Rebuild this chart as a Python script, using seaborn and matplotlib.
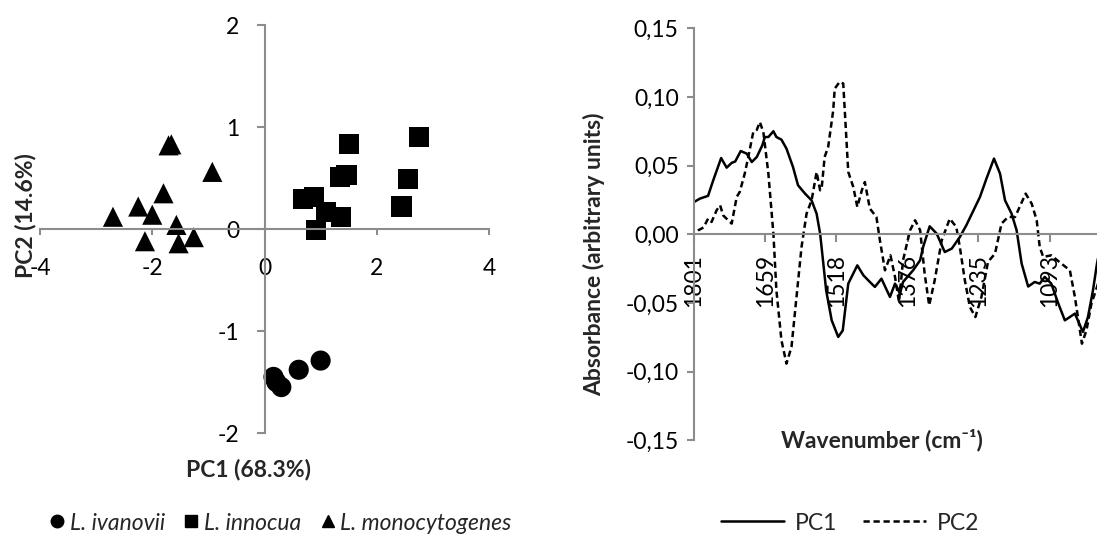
import matplotlib
matplotlib.use("Agg")
import matplotlib.pyplot as plt
import seaborn as sns
import pandas as pd
from matplotlib.lines import Line2D

sns.set_theme(style="white")
plt.rcParams["font.family"] = ["Lato", "DejaVu Sans"]

# ---------------- data: PCA scores ----------------
species_names = ["L. ivanovii", "L. innocua", "L. monocytogenes"]
ivanovii_pc1 = [0.16, 0.21, 0.30, 0.61, 1.00]
ivanovii_pc2 = [-1.45, -1.50, -1.55, -1.38, -1.29]
innocua_pc1 = [0.68, 0.88, 0.91, 1.10, 1.34, 1.46, 1.37, 1.50, 2.44, 2.56, 2.76]
innocua_pc2 = [0.29, 0.31, -0.01, 0.17, 0.51, 0.53, 0.12, 0.83, 0.22, 0.49, 0.90]
mono_pc1 = [-2.70, -2.25, -2.00, -1.80, -1.71, -1.66, -0.93, -1.57, -2.13, -1.53, -1.26]
mono_pc2 = [0.12, 0.22, 0.14, 0.35, 0.82, 0.83, 0.56, 0.04, -0.12, -0.14, -0.08]

score_xticks = [-4, -2, 0, 2, 4]
score_yticks = [-2, -1, 0, 1, 2]

# ---------------- data: loadings ----------------
pc1_wn = [1801, 1789, 1773, 1763, 1747, 1736, 1726, 1719, 1708, 1696, 1686, 1676, 1665,
          1660, 1653, 1643, 1637, 1627, 1617, 1604, 1594, 1580, 1567, 1557, 1550, 1544,
          1538, 1527, 1514, 1505, 1494, 1476, 1464, 1451, 1441, 1428, 1411, 1401, 1391,
          1385, 1365, 1351, 1345, 1332, 1318, 1302, 1288, 1272, 1259, 1232, 1219, 1204,
          1192, 1182, 1169, 1159, 1149, 1136, 1123, 1113, 1103, 1090, 1076, 1063, 1053,
          1043, 1027, 1017, 1007, 999, 992]
pc1_val = [0.0235, 0.026, 0.028, 0.039, 0.0555, 0.0485, 0.052, 0.053, 0.0606, 0.0587,
           0.0526, 0.0563, 0.0648, 0.0708, 0.0708, 0.075, 0.0708, 0.0689, 0.0624, 0.049,
           0.0357, 0.0296, 0.0247, 0.015, 0.0005, -0.02, -0.0408, -0.0626, -0.0747, -0.070,
           -0.0359, -0.0226, -0.0298, -0.0347, -0.0383, -0.0323, -0.0456, -0.0359, -0.0432,
           -0.0347, -0.0262, -0.0189, -0.0092, 0.0058, 0.0005, -0.0129, -0.0104, -0.002,
           0.0066, 0.0271, 0.0405, 0.0551, 0.0442, 0.0247, 0.015, 0.003, -0.0213, -0.038,
           -0.0347, -0.0359, -0.031, -0.0359, -0.0504, -0.0626, -0.0602, -0.0577, -0.0711,
           -0.0602, -0.0408, -0.0213, -0.008]

pc2_wn = [1801, 1792, 1782, 1773, 1766, 1756, 1749, 1743, 1733, 1726, 1716, 1710, 1700,
          1693, 1683, 1676, 1670, 1663, 1653, 1643, 1637, 1627, 1617, 1607, 1597, 1587,
          1577, 1567, 1557, 1550, 1547, 1541, 1534, 1524, 1521, 1511, 1504, 1494, 1484,
          1476, 1467, 1461, 1451, 1438, 1431, 1421, 1410, 1401, 1393, 1385, 1371, 1361,
          1351, 1342, 1333, 1322, 1308, 1292, 1279, 1272, 1262, 1252, 1241, 1229, 1216,
          1202, 1189, 1176, 1162, 1153, 1141, 1129, 1119, 1113, 1106, 1090, 1070, 1053,
          1043, 1033, 1029, 1020, 1010, 999, 992]
pc2_val = [0.0005, 0.003, 0.005, 0.0114, 0.009, 0.0175, 0.0211, 0.0138, 0.0102, 0.0078,
           0.0272, 0.0308, 0.0442, 0.0563, 0.0745, 0.076, 0.0817, 0.0745, 0.0442, 0.0005,
           -0.0408, -0.0771, -0.0941, -0.082, -0.0456, -0.0092, 0.015, 0.0247, 0.0453, 0.032,
           0.0333, 0.0563, 0.0636, 0.090, 0.106, 0.111, 0.1097, 0.0454, 0.0344, 0.0199,
           0.032, 0.038, 0.0187, 0.0126, -0.0044, -0.0262, -0.0153, -0.031, -0.0493, -0.0189,
           0.0029, 0.0102, 0.003, -0.0286, -0.0517, -0.0335, -0.0044, 0.0114, 0.0053, -0.0092,
           -0.0335, -0.0529, -0.0602, -0.0456, -0.0201, -0.0141, 0.0078, 0.0126, 0.0126,
           0.0199, 0.0296, 0.0223, 0.0102, -0.0092, -0.0165, -0.0153, -0.0213, -0.0262,
           -0.0456, -0.0699, -0.0796, -0.0699, -0.0504, -0.0383, -0.030]

wn_ticks = [1801, 1659, 1518, 1376, 1235, 1093]
abs_ticks = [-0.15, -0.10, -0.05, 0.00, 0.05, 0.10, 0.15]
abs_ticklabels = ["-0,15", "-0,10", "-0,05", "0,00", "0,05", "0,10", "0,15"]

# ---------------- frames ----------------
scores = pd.DataFrame({
    "PC1": ivanovii_pc1 + innocua_pc1 + mono_pc1,
    "PC2": ivanovii_pc2 + innocua_pc2 + mono_pc2,
    "species": [species_names[0]] * len(ivanovii_pc1)
               + [species_names[1]] * len(innocua_pc1)
               + [species_names[2]] * len(mono_pc1),
})
loadings = pd.DataFrame({
    "wn": pc1_wn + pc2_wn,
    "value": pc1_val + pc2_val,
    "component": ["PC1"] * len(pc1_wn) + ["PC2"] * len(pc2_wn),
})

W, H = 1097, 535
fig = plt.figure(figsize=(W / 100, H / 100), dpi=100)
AXC = "#8c8c8c"
FS = 16.5
LW = 1.8
DASH = (2.5, 1.5)

# ---------------- left: scores ----------------
ax1 = fig.add_axes([40 / W, 1 - 433 / H, 449 / W, 408 / H])
markers = {species_names[0]: "o", species_names[1]: "s", species_names[2]: "^"}
sns.scatterplot(data=scores, x="PC1", y="PC2", style="species", markers=markers,
                color="black", s=210, linewidth=0, legend=False, ax=ax1, clip_on=False)
for s in ["top", "right"]:
    ax1.spines[s].set_visible(False)
ax1.spines["left"].set_position(("data", 0))
ax1.spines["bottom"].set_position(("data", 0))
for s in ["left", "bottom"]:
    ax1.spines[s].set_color(AXC)
    ax1.spines[s].set_linewidth(1.5)
ax1.set_xlim(-4, 4)
ax1.set_ylim(-2, 2)
ax1.set_xticks(score_xticks)
ax1.set_yticks(score_yticks)
ax1.set_xticklabels([str(v) for v in score_xticks])
ax1.set_yticklabels([str(v) for v in score_yticks])
ax1.tick_params(axis="x", direction="out", length=4, width=1.5, color=AXC, pad=17,
                labelsize=FS, labelcolor="black", bottom=True)
ax1.tick_params(axis="y", direction="out", length=6, width=1.5, color=AXC, pad=12,
                labelsize=FS, labelcolor="black", left=True)
ax1.set_xlabel("")
ax1.set_ylabel("")
ax1.patch.set_alpha(0)

fig.text(248 / W, 1 - 469 / H, "PC1 (68.3%)", ha="center", va="center",
         fontsize=FS, fontweight="bold")
fig.text(25 / W, 1 - 216 / H, "PC2 (14.6%)", ha="center", va="center",
         rotation=90, fontsize=FS, fontweight="bold")

leg1_handles = [Line2D([], [], marker=markers[n], color="black", linestyle="none",
                       markersize=9) for n in species_names]
fig.legend(leg1_handles, species_names, loc="center", bbox_to_anchor=(281 / W, 1 - 523 / H),
           ncol=3, frameon=False, handletextpad=0.25, columnspacing=0.85,
           handlelength=0.6, borderpad=0, prop={"style": "italic", "size": FS})

# ---------------- right: loadings ----------------
ax2 = fig.add_axes([694 / W, 1 - 440.4 / H, (W - 694) / W, 412.2 / H])
sns.lineplot(data=loadings, x="wn", y="value", style="component",
             dashes={"PC1": "", "PC2": DASH}, color="black", linewidth=LW,
             estimator=None, sort=True, legend=False, ax=ax2)
for s in ["top", "right"]:
    ax2.spines[s].set_visible(False)
ax2.spines["bottom"].set_position(("data", 0))
for s in ["left", "bottom"]:
    ax2.spines[s].set_color(AXC)
    ax2.spines[s].set_linewidth(1.5)
ax2.set_xlim(1801, 999)
ax2.set_ylim(-0.15, 0.15)
ax2.set_xticks(wn_ticks)
ax2.set_xticklabels([str(v) for v in wn_ticks], rotation=90)
ax2.set_yticks(abs_ticks)
ax2.set_yticklabels(abs_ticklabels)
ax2.tick_params(axis="x", direction="out", length=6, width=1.5, color=AXC, pad=8,
                labelsize=FS, labelcolor="black", bottom=True)
ax2.tick_params(axis="y", direction="out", length=5, width=1.5, color=AXC, pad=6,
                labelsize=FS, labelcolor="black", left=True)
ax2.set_xlabel("")
ax2.set_ylabel("")
ax2.patch.set_alpha(0)

fig.text(594 / W, 1 - 254 / H, "Absorbance (arbitrary units)", ha="center", va="center",
         rotation=90, fontsize=FS, fontweight="bold")
fig.text(882 / W, 1 - 440 / H, "Wavenumber (cm⁻¹)", ha="center", va="center",
         fontsize=FS, fontweight="bold")

leg2_handles = [Line2D([], [], color="black", linewidth=LW),
                Line2D([], [], color="black", linewidth=LW, dashes=DASH)]
fig.legend(leg2_handles, ["PC1", "PC2"], loc="center", bbox_to_anchor=(850 / W, 1 - 523 / H),
           ncol=2, frameon=False, handletextpad=0.5, columnspacing=1.1,
           handlelength=2.75, borderpad=0, prop={"size": FS})

fig.savefig("out.png", dpi=100)
